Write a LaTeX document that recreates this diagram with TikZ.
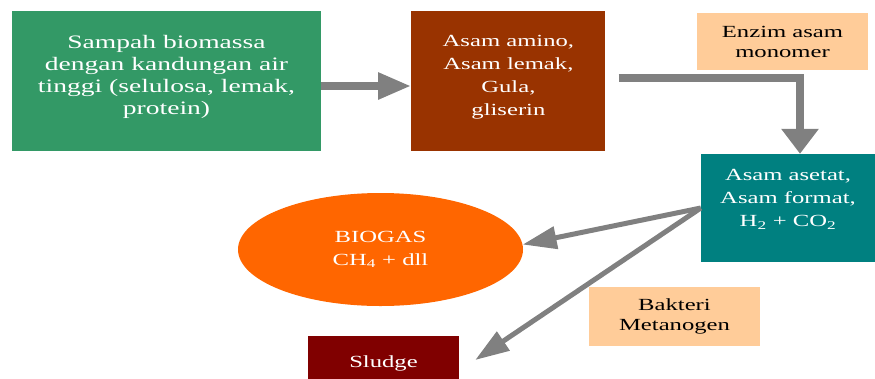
\documentclass[tikz,border=0pt]{standalone}
\usepackage{fontspec}
\setmainfont[FakeStretch=1.45]{Liberation Serif}
\usepackage{tikz}
\usetikzlibrary{positioning, arrows.meta, shapes.geometric}
\definecolor{seagreen}{HTML}{339966}
\definecolor{rust}{HTML}{993300}
\definecolor{tealbox}{HTML}{008080}
\definecolor{peach}{HTML}{FFCC99}
\definecolor{gasorange}{HTML}{FF6600}
\definecolor{sludgered}{HTML}{800000}
\definecolor{arrowgray}{HTML}{808080}
\newcommand{\liftby}[1]{\\[#1]\mbox{}}
\tikzstyle{process} = [rectangle, inner sep=0pt, align=center, text=white, font=\fontsize{17}{23}\selectfont]
\tikzstyle{note} = [rectangle, inner sep=0pt, align=center, text=black, fill=peach, minimum width=171pt, font=\fontsize{17}{20}\selectfont]
\tikzstyle{arrow} = [line width=8pt, draw=arrowgray, -{Triangle[length=33pt,width=25pt]}]
\tikzstyle{elbowarrow} = [line width=8pt, draw=arrowgray, -{Triangle[length=25pt,width=36pt]}]
\tikzstyle{thinarrow} = [line width=5pt, draw=arrowgray, -{Triangle[length=34pt,width=22pt]}]

\begin{document}
\begin{tikzpicture}[x=1pt, y=-1pt]
\clip (0,0) rectangle (875,378);
\node (Sampah) [process, fill=seagreen, minimum width=309pt, minimum height=140pt, font=\fontsize{19}{22}\selectfont] at (166.5,81) {Sampah biomassa\\dengan kandungan air\\tinggi (selulosa, lemak,\\protein)\liftby{-10pt}};
\node (Asam) [process, fill=rust, minimum width=194pt, minimum height=140pt, right=90pt of Sampah] {Asam amino,\\Asam lemak,\\Gula,\\gliserin\liftby{-11pt}};
\node (Enzim) [note, minimum height=57pt] at (782.5,41.5) {Enzim asam\\monomer};
\node (Tealbox) [process, fill=tealbox, minimum width=174pt, minimum height=108pt] at (788,208) {Asam asetat,\\Asam format,\\H\textsubscript{2} + CO\textsubscript{2}\liftby{-3pt}};
\node (Biogas) [process, ellipse, fill=gasorange, minimum width=285pt, minimum height=113pt] at (380.5,249.5) {BIOGAS\\CH\textsubscript{4} + dll};
\node (Bakteri) [note, minimum height=59pt] at (674.5,316.5) {Bakteri\\Metanogen};
\node (Sludge) [process, fill=sludgered, minimum width=151pt, minimum height=54pt] at (383.5,363) {Sludge};

\draw [arrow] ([yshift=-5pt]Sampah.east) -- ([yshift=-5pt]Asam.west);
\draw [elbowarrow] ([xshift=13pt,yshift=3pt]Asam.east) -| ([xshift=12pt]Tealbox.north);
\draw [thinarrow] (Tealbox.west) -- (Biogas.2);
\draw [thinarrow] (Tealbox.west) -- ([xshift=16pt,yshift=3pt]Sludge.east);
\end{tikzpicture}
\end{document}
